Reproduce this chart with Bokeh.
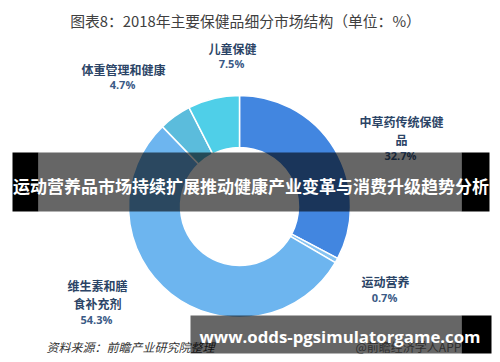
import numpy as np
from bokeh.plotting import figure
from bokeh.models import Range1d, ColumnDataSource
from bokeh.core.properties import value
from bokeh.embed import file_html
from bokeh.resources import INLINE

# ---- data ----
title = "图表8：2018年主要保健品细分市场结构（单位：%）"
categories = ["中草药传统保健品", "运动营养", "维生素和膳食补充剂", "体重管理和健康", "儿童保健"]
shares = [32.7, 0.7, 54.3, 4.7, 7.5]
slice_colors = ["#4286e0", "#86c3f2", "#6db5ef", "#5bbcdc", "#4fcfe8"]
label_lines = [["中草药传统保健", "品"], ["运动营养"], ["维生素和膳", "食补充剂"], ["体重管理和健康"], ["儿童保健"]]
source_note = "资料来源：前瞻产业研究院整理"
credit = "@前瞻经济学人APP"
banner_text = "运动营养品市场持续扩展推动健康产业变革与消费升级趋势分析"
url_text = "www.odds-pgsimulatorgame.com"

W, H = 492, 354
CJK = value("Noto Sans CJK SC")

p = figure(width=W, height=H, x_range=Range1d(0, W), y_range=Range1d(0, H),
           x_axis_type=None, y_axis_type=None, toolbar_location=None,
           output_backend="svg", min_border=0)
p.outline_line_color = None
p.xgrid.visible = False
p.ygrid.visible = False
p.background_fill_color = "white"
p.border_fill_color = "white"

# ---- donut ----
cx, cy = 239, 148
r_out, r_in = 111, 59
vals = np.array(shares, dtype=float)
frac = vals / vals.sum()
cum = np.concatenate([[0], np.cumsum(frac)])
start = np.pi / 2 - 2 * np.pi * cum[:-1]
end = np.pi / 2 - 2 * np.pi * cum[1:]
src = ColumnDataSource(dict(x=[cx] * len(vals), y=[cy] * len(vals),
                            start=start, end=end, color=slice_colors))
p.annular_wedge(x="x", y="y", inner_radius=r_in, outer_radius=r_out,
                inner_radius_units="screen", outer_radius_units="screen",
                start_angle="start", end_angle="end", direction="clock",
                fill_color="color", line_color="white", line_width=1.5, source=src)

# ---- title ----
p.text(x=[245], y=[334], text=[title], text_font=CJK, text_font_size="14.8px",
       text_color="#404040", text_align="center", text_baseline="middle")

# ---- labels ----
label_pos = [(401, 233, 16), (385, 73, 16), (97, 69, 16.5), (123, 285, 15), (232, 306.5, 15)]
navy = "#2b4466"
for lines, (lx, ly, gap), v in zip(label_lines, label_pos, shares):
    for i, t in enumerate(lines):
        p.text(x=[lx], y=[ly - i * 17.5], text=[t], text_font=CJK, text_font_size="12px",
               text_font_style="bold", text_color=navy, text_align="center",
               text_baseline="middle")
    py = ly - (len(lines) - 1) * 17.5 - gap
    p.text(x=[lx - 1], y=[py], text=[f"{v}%"], text_font=value("Open Sans"),
           text_font_size="11px", text_font_style="bold", text_color="#3b5a86",
           text_align="center", text_baseline="middle")

# ---- source & credit ----
p.text(x=[46], y=[8], text=[source_note], text_font=CJK, text_font_size="12px",
       text_font_style="italic", text_color="#333333", text_align="left",
       text_baseline="middle")
p.text(x=[355], y=[8], text=[credit], text_font=CJK, text_font_size="12px",
       text_color="#777777", text_align="left", text_baseline="middle")

# ---- overlay banners ----
p.quad(left=[38], right=[461], bottom=[143], top=[202], fill_color="black",
       fill_alpha=0.6, line_color=None)
p.quad(left=[12, 461], right=[38, 489], bottom=[143, 143], top=[202, 202],
       fill_color="black", line_color=None)
p.text(x=[250.5], y=[169.5], text=[banner_text], text_font=CJK, text_font_size="17px",
       text_font_style="bold", text_color="white", text_align="center",
       text_baseline="middle")
p.quad(left=[190], right=[461], bottom=[1], top=[39], fill_color="black",
       fill_alpha=0.6, line_color=None)
p.quad(left=[461], right=[491], bottom=[1], top=[39], fill_color="black", line_color=None)
p.text(x=[339.5], y=[18], text=[url_text], text_font=value("Open Sans"),
       text_font_size="16.8px", text_font_style="bold", text_color="white",
       text_align="center", text_baseline="middle")

open("out.html", "w").write(file_html(p, INLINE))
